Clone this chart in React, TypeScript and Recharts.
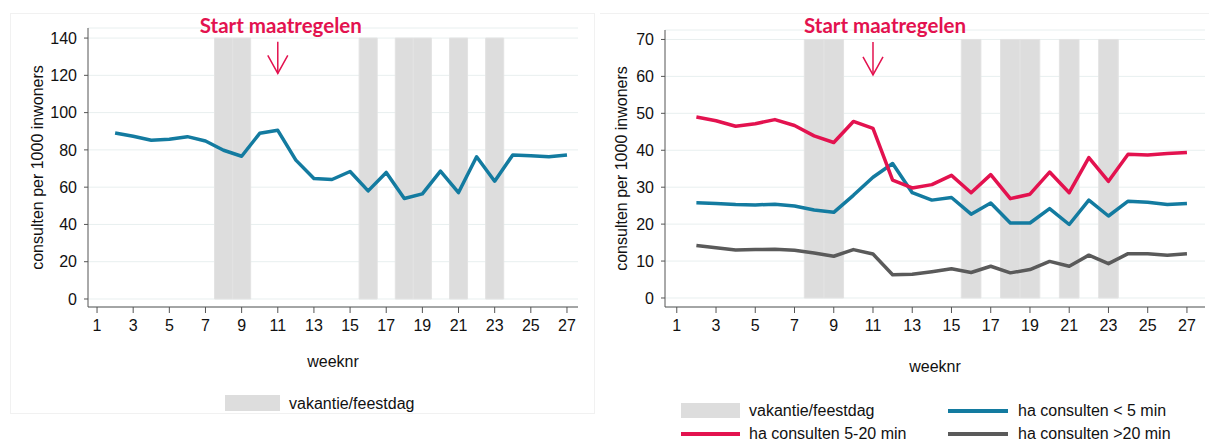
import React from 'react';
import { LineChart, Line, XAxis, YAxis, CartesianGrid, ReferenceArea, ReferenceLine } from 'recharts';

// weeknummers 2..27
const weeks = [2, 3, 4, 5, 6, 7, 8, 9, 10, 11, 12, 13, 14, 15, 16, 17, 18, 19, 20, 21, 22, 23, 24, 25, 26, 27];

// links: alle consulten
const totaal = [89.1, 87.3, 85.2, 85.7, 87.1, 84.8, 79.8, 76.6, 88.9, 90.5, 74.5, 64.6, 64.1, 68.4, 58.0, 67.9, 53.9, 56.4, 68.6, 57.1, 76.3, 63.2, 77.3, 76.8, 76.3, 77.3];

// rechts: per duur
const kort = [25.8, 25.6, 25.3, 25.2, 25.4, 24.9, 23.8, 23.2, 27.8, 32.7, 36.4, 28.5, 26.5, 27.2, 22.7, 25.7, 20.3, 20.3, 24.2, 19.9, 26.5, 22.2, 26.2, 25.9, 25.3, 25.6];
const middel = [49.0, 48.0, 46.5, 47.2, 48.3, 46.7, 43.9, 42.1, 47.8, 45.9, 31.9, 29.8, 30.7, 33.2, 28.5, 33.4, 26.9, 28.1, 34.1, 28.5, 38.0, 31.6, 38.9, 38.7, 39.1, 39.4];
const lang = [14.2, 13.6, 13.0, 13.1, 13.2, 12.9, 12.2, 11.3, 13.1, 11.9, 6.3, 6.4, 7.1, 7.9, 6.9, 8.6, 6.8, 7.7, 9.9, 8.6, 11.6, 9.3, 12.0, 12.0, 11.6, 12.0];

const vakantieWeken = [8, 9, 16, 18, 19, 21, 23];
const weekTicks = [1, 3, 5, 7, 9, 11, 13, 15, 17, 19, 21, 23, 25, 27];
const leftTicks = [0, 20, 40, 60, 80, 100, 120, 140];
const rightTicks = [0, 10, 20, 30, 40, 50, 60, 70];
const startWeek = 11;

const BLUE = '#137ba0';
const RED = '#e3124f';
const GREY = '#5a5a5a';
const BAND = '#dddddd';
const FONT = '"Liberation Sans", Arial, sans-serif';

const data = weeks.map((w, i) => ({ week: w, totaal: totaal[i], kort: kort[i], middel: middel[i], lang: lang[i] }));

const makeArrow = (dx: number) => (p: any) => {
  const { x1, y1, y2 } = p;
  return (
    <g>
      <text x={x1 + dx} y={33} textAnchor="middle" fill={RED} fontFamily="Lato, sans-serif" fontWeight={700} fontSize={20.5}>
        Start maatregelen
      </text>
      <line x1={x1} y1={y1} x2={x1} y2={y2} stroke={RED} strokeWidth={1.5} />
      <polyline points={`${x1 - 10},${y2 - 18} ${x1},${y2} ${x1 + 10},${y2 - 18}`} fill="none" stroke={RED} strokeWidth={1.5} />
    </g>
  );
};

type PanelProps = {
  width: number;
  yWidth: number;
  marginTop: number;
  marginRight: number;
  xDomain: [number, number];
  yDomain: [number, number];
  yTicks: number[];
  bandTop: number;
  arrow: [number, number];
  arrowDx: number;
  labelOffset: number;
  xHeight: number;
  series: { key: string; color: string }[];
};

const Panel = (props: PanelProps) => {
  const axisStyle = { fontSize: 16, fontFamily: FONT, fill: '#111' };
  return (
    <LineChart
      width={props.width}
      height={443}
      data={data}
      margin={{ top: props.marginTop, right: props.marginRight, left: 0, bottom: 443 - 307 - props.xHeight }}
    >
      <CartesianGrid vertical={false} stroke="#e8efef" />
      {vakantieWeken.map((w) => (
        <ReferenceArea key={w} x1={w - 0.5} x2={w + 0.5} y1={0} y2={props.bandTop} fill={BAND} fillOpacity={1} stroke="#e3e3e3" strokeWidth={1} />
      ))}
      <XAxis
        type="number"
        dataKey="week"
        domain={props.xDomain}
        ticks={weekTicks}
        allowDataOverflow
        height={props.xHeight}
        tick={axisStyle}
        tickSize={6}
        tickMargin={7}
        stroke="#555"
        label={{ value: 'weeknr', position: 'insideBottom', offset: 0, style: { fontSize: 16, fontFamily: FONT, fill: '#111' } }}
      />
      <YAxis
        type="number"
        domain={props.yDomain}
        ticks={props.yTicks}
        allowDataOverflow
        width={props.yWidth}
        tick={axisStyle}
        tickSize={4}
        tickMargin={7}
        stroke="#555"
        label={{
          value: 'consulten per 1000 inwoners',
          angle: -90,
          position: 'insideLeft',
          offset: props.labelOffset,
          style: { textAnchor: 'middle', fontSize: 16, fontFamily: FONT, fill: '#111' },
        }}
      />
      {props.series.map((s) => (
        <Line key={s.key} type="linear" dataKey={s.key} stroke={s.color} strokeWidth={3.5} dot={false} isAnimationActive={false} strokeLinejoin="round" />
      ))}
      <ReferenceLine
        segment={[{ x: startWeek, y: props.arrow[0] }, { x: startWeek, y: props.arrow[1] }]}
        shape={makeArrow(props.arrowDx)}
      />
    </LineChart>
  );
};

const legendText: React.CSSProperties = { position: 'absolute', fontSize: 16, fontFamily: FONT, color: '#111', lineHeight: '18px' };

const App = () => (
  <div style={{ position: 'absolute', left: 0, top: 0, width: 1209, height: 443, background: '#fff', overflow: 'hidden' }}>
    <div style={{ position: 'absolute', left: 10, top: 13, width: 583, height: 399, border: '1px solid #f1f1f1' }} />
    <div style={{ position: 'absolute', left: 600, top: 13, width: 609, height: 0, borderTop: '1px solid #f1f1f1' }} />
    <div style={{ position: 'absolute', left: 0, top: 0 }}>
      <Panel
        width={595}
        yWidth={88}
        marginTop={28}
        marginRight={17}
        xDomain={[0.5, 27.61]}
        yDomain={[-4.3, 145.4]}
        yTicks={leftTicks}
        bandTop={140}
        arrow={[138, 121]}
        arrowDx={3}
        labelOffset={37}
        xHeight={60}
        series={[{ key: 'totaal', color: BLUE }]}
      />
    </div>
    <div style={{ position: 'absolute', left: 600, top: 0 }}>
      <Panel
        width={609}
        yWidth={65}
        marginTop={30}
        marginRight={4}
        xDomain={[0.4, 27.92]}
        yDomain={[-2.44, 72.56]}
        yTicks={rightTicks}
        bandTop={70}
        arrow={[69.3, 60.4]}
        arrowDx={12}
        labelOffset={21}
        xHeight={65}
        series={[
          { key: 'lang', color: GREY },
          { key: 'kort', color: BLUE },
          { key: 'middel', color: RED },
        ]}
      />
    </div>

    {/* legenda links */}
    <div style={{ position: 'absolute', left: 225, top: 395, width: 55, height: 16, background: BAND }} />
    <div style={{ ...legendText, left: 289, top: 395 }}>vakantie/feestdag</div>

    {/* legenda rechts */}
    <div style={{ position: 'absolute', left: 681, top: 403, width: 59, height: 15, background: BAND }} />
    <div style={{ ...legendText, left: 749, top: 402 }}>vakantie/feestdag</div>
    <div style={{ position: 'absolute', left: 948, top: 409, width: 60, height: 4, background: BLUE }} />
    <div style={{ ...legendText, left: 1018, top: 402 }}>ha consulten &lt; 5 min</div>
    <div style={{ position: 'absolute', left: 681, top: 432, width: 59, height: 4, background: RED }} />
    <div style={{ ...legendText, left: 749, top: 425 }}>ha consulten 5-20 min</div>
    <div style={{ position: 'absolute', left: 948, top: 432, width: 60, height: 4, background: GREY }} />
    <div style={{ ...legendText, left: 1018, top: 425 }}>ha consulten &gt;20 min</div>
  </div>
);

export default App;
